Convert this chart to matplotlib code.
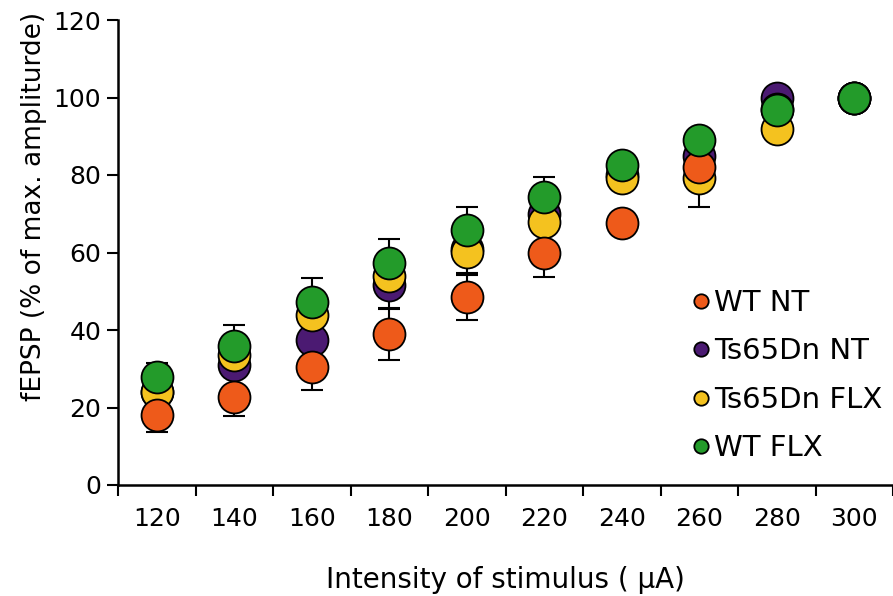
import numpy as np
import matplotlib
matplotlib.use('Agg')
import matplotlib.pyplot as plt

# stimulus intensities (uA), drawn as categories
intensity = ['120', '140', '160', '180', '200', '220', '240', '260', '280', '300']

# fEPSP, % of max amplitude
wt_nt = [18, 22.8, 30.5, 39, 48.6, 59.8, 67.5, 82, 97, 100]
ts_nt = [24, 31, 37.4, 51.6, 61, 70, 80, 85, 100, 100]
ts_flx = [24, 33.5, 44, 54, 60.2, 68, 79.1, 79.1, 92, 100]
wt_flx = [27.9, 36, 47.3, 57.2, 65.8, 74.4, 82.6, 89, 96.8, 100]

wt_nt_err = [4.3, 5, 6, 6.7, 6, 6, 2, 2, 0, 0]
ts_nt_err = [2, 2, 2, 6.3, 6.8, 3, 2, 2, 1, 0]
ts_flx_err = [2, 2, 2, 2, 2, 2, 2, 7.3, 2, 0]
wt_flx_err = [3.7, 5.2, 6, 6.3, 6, 5.2, 2, 2, 1, 0]

plt.rcParams['font.family'] = ['DejaVu Sans']

fig = plt.figure(figsize=(8.93, 5.96), dpi=100)
ax = fig.add_axes([118 / 893, 111 / 596, 1 - 118 / 893, 465 / 596])

x = np.arange(len(intensity))

# drawing order matters for which circle sits in front
series = [
    ('Ts65Dn NT', ts_nt, ts_nt_err, '#4B1A72'),
    ('Ts65Dn FLX', ts_flx, ts_flx_err, '#F4C21F'),
    ('WT NT', wt_nt, wt_nt_err, '#EE5A1A'),
    ('WT FLX', wt_flx, wt_flx_err, '#239B2A'),
]

handles = {}
for i, (name, vals, err, col) in enumerate(series):
    # all error bars sit under all circles
    ax.errorbar(x, vals, yerr=err, fmt='none', ecolor='black', elinewidth=1.5,
                capsize=8, capthick=1.5, zorder=1)
    h, = ax.plot(x, vals, 'o', ms=23, mfc=col, mec='black', mew=1.3,
                 linestyle='none', zorder=3 + i, label=name)
    handles[name] = h

ax.set_xlim(-0.5, 9.5)
ax.set_ylim(0, 120)
ax.set_yticks(np.arange(0, 121, 20))
ax.set_xticks(np.arange(-0.5, 10, 1))
ax.set_xticklabels([])
ax.set_xticks(x, minor=True)
ax.set_xticklabels(intensity, minor=True)

ax.tick_params(axis='both', which='major', direction='out', length=8, width=1.5,
               labelsize=18, pad=4)
ax.tick_params(axis='x', which='minor', length=0, labelsize=18, pad=16)

for s in ['top', 'right']:
    ax.spines[s].set_visible(False)
for s in ['left', 'bottom']:
    ax.spines[s].set_linewidth(1.8)
ax.spines['left'].set_zorder(20)

ax.set_xlabel('Intensity of stimulus ( \u00b5A)', fontsize=20, labelpad=25)
ax.set_ylabel('fEPSP (% of max. ampliturde)', fontsize=19, labelpad=6)
ax.yaxis.set_label_coords(-0.091, 0.6)

order = ['WT NT', 'Ts65Dn NT', 'Ts65Dn FLX', 'WT FLX']
leg = ax.legend([handles[n] for n in order], order, loc='upper left',
                bbox_to_anchor=(692 / 893, 1 - 289 / 596), bbox_transform=fig.transFigure,
                frameon=False, fontsize=21, markerscale=0.45, handlelength=0.6,
                handletextpad=0.15, labelspacing=0.7, borderpad=0, borderaxespad=0)
leg.set_zorder(30)

fig.savefig('out.png', dpi=100)
